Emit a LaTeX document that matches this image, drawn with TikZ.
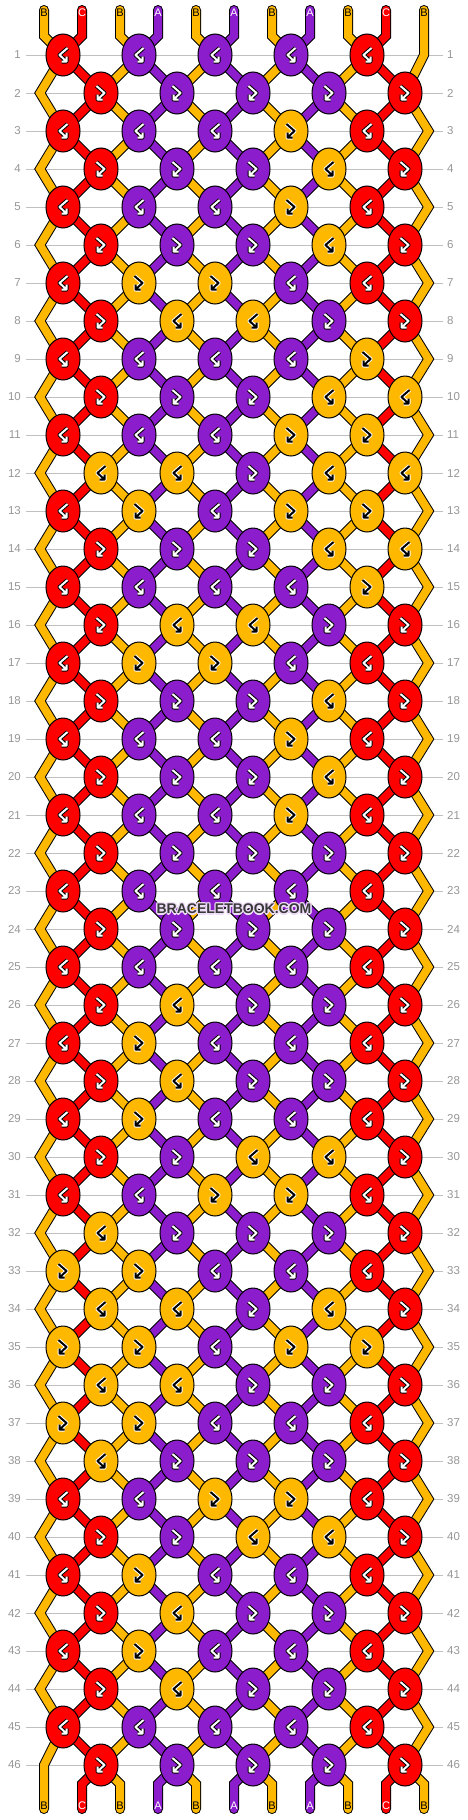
\documentclass[tikz,border=0pt]{standalone}
\usepackage{fontspec}
\setmainfont{Liberation Sans}
\usetikzlibrary{shapes.geometric}

\definecolor{strandA}{RGB}{140,29,204}
\definecolor{strandB}{RGB}{255,184,0}
\definecolor{strandC}{RGB}{255,0,0}
\definecolor{gridgray}{RGB}{192,192,192}
\definecolor{numgray}{RGB}{150,150,150}

\pgfdeclarelayer{grid}
\pgfdeclarelayer{strands}
\pgfsetlayers{grid,strands,main}

\begin{document}
\begin{tikzpicture}[x=1pt,y=-1pt,
	knot/.style={ellipse,draw=black,line width=1pt,minimum width=34pt,minimum height=42pt,inner sep=0pt},
	strand/.style={line width=1pt,draw=black,double=#1,double distance=8pt,line cap=round},
	rowline/.style={gridgray,line width=1pt},
	rownum/.style={text=numgray,font=\fontsize{11.5}{12}\selectfont,inner sep=0pt},
	tag/.style={font=\fontsize{11}{12}\selectfont,inner sep=0pt},
	sign/.style={line width=#1,line cap=butt,line join=round}]
			
			\useasboundingbox (0,0) rectangle (468,1820);
			
			%--- Ky hieu nut (fb: >, bf: <) ---
			\def\fbsign{(-4.5,-7) -- (3.5,0) -- (-3.5,6.5) -- (-3.5,1.5) (-3.5,6.5) -- (1.5,6.5)}
			\def\bfsign{(4.5,-7) -- (-3.5,0) -- (3.5,6.5) -- (3.5,1.5) (3.5,6.5) -- (-1.5,6.5)}
			
			%--- Hang ---
			\begin{pgfonlayer}{grid}
				\foreach \r in {1,...,46} {
					\pgfmathsetmacro\ry{55+38*(\r-1)}
					\draw[rowline] (26,\ry) -- (443,\ry);
					\node[rownum,anchor=east] (nl-\r) at (21,\ry) {\r};
					\node[rownum,anchor=west] (nr-\r) at (447,\ry) {\r};
				}
			\end{pgfonlayer}
			
			%--- Nut: 1 = cam (B), 0 = mau cua soi kia ---
			\foreach \r/\ma/\mb/\mc/\md/\me in {
				1/0/0/0/0/0, 2/0/0/0/0/0, 3/0/0/0/1/0, 4/0/0/0/1/0, 5/0/0/0/1/0,
				6/0/0/0/1/0, 7/0/1/1/0/0, 8/0/1/1/0/0, 9/0/0/0/0/1, 10/0/0/0/1/1,
				11/0/0/0/1/1, 12/1/1/0/1/1, 13/0/1/0/1/1, 14/0/0/0/1/1, 15/0/0/0/0/1,
				16/0/1/1/0/0, 17/0/1/1/0/0, 18/0/0/0/1/0, 19/0/0/0/1/0, 20/0/0/0/1/0,
				21/0/0/0/1/0, 22/0/0/0/0/0, 23/0/0/0/0/0, 24/0/0/0/0/0, 25/0/0/0/0/0,
				26/0/1/0/0/0, 27/0/1/0/0/0, 28/0/1/0/0/0, 29/0/1/0/0/0, 30/0/0/1/1/0,
				31/0/0/1/1/0, 32/1/0/0/0/0, 33/1/1/0/0/0, 34/1/1/0/1/0, 35/1/1/0/1/1,
				36/1/1/0/0/0, 37/1/1/0/0/0, 38/1/0/0/0/0, 39/0/0/1/1/0, 40/0/0/1/1/0,
				41/0/1/0/0/0, 42/0/1/0/0/0, 43/0/1/0/0/0, 44/0/1/0/0/0, 45/0/0/0/0/0,
				46/0/0/0/0/0} {
				\pgfmathtruncatemacro\rodd{mod(\r,2)}
				\foreach \k/\q in {0/\ma,1/\mb,2/\mc,3/\md,4/\me} {
					\pgfmathsetmacro\kx{101+76*\k-38*\rodd}
					\pgfmathsetmacro\ky{55+38*(\r-1)}
					\ifnum\q=1\relax
						\def\kc{strandB}\def\glyphfill{black}\def\glyphedge{white}
					\else
						\def\glyphfill{white}\def\glyphedge{black}
						\ifnum\k=0 \def\kc{strandC}\else\ifnum\k=4 \def\kc{strandC}\else\def\kc{strandA}\fi\fi
					\fi
					\node[knot,fill=\kc] (k-\r-\k) at (\kx,\ky) {};
					\ifnum\rodd=\q\relax \def\sgn{\fbsign}\else\def\sgn{\bfsign}\fi
					\begin{scope}[shift={(k-\r-\k.center)}]
						\draw[sign=4pt,draw=\glyphedge] \sgn;
						\draw[sign=2pt,draw=\glyphfill] \sgn;
					\end{scope}
				}
			}
			
			%--- Soi ---
			\begin{pgfonlayer}{strands}
				\foreach \r in {1,...,45} {
					\pgfmathtruncatemacro\rn{\r+1}
					\pgfmathtruncatemacro\rodd{mod(\r,2)}
					\foreach \k in {0,...,4} {
						\ifnum\k=0 \def\xc{strandC}\else\ifnum\k=4 \def\xc{strandC}\else\def\xc{strandA}\fi\fi
						\draw[strand=\xc] (k-\r-\k.center) -- (k-\rn-\k.center);
						\pgfmathtruncatemacro\kb{\k+1-2*\rodd}
						\ifnum\kb>-1 \ifnum\kb<5
							\draw[strand=strandB] (k-\r-\k.center) -- (k-\rn-\kb.center);
						\fi\fi
					}
				}
				% soi ngoai cung
				\foreach \r in {2,4,...,44} {
					\pgfmathtruncatemacro\ra{\r-1}
					\pgfmathtruncatemacro\rb{\r+1}
					\coordinate (L-\r) at (40,{55+38*(\r-1)});
					\draw[strand=strandB] (k-\ra-0.center) -- (L-\r) -- (k-\rb-0.center);
				}
				\foreach \r in {3,5,...,45} {
					\pgfmathtruncatemacro\ra{\r-1}
					\pgfmathtruncatemacro\rb{\r+1}
					\coordinate (R-\r) at (428.5,{55+38*(\r-1)});
					\draw[strand=strandB] (k-\ra-4.center) -- (R-\r) -- (k-\rb-4.center);
				}
				% dau tren
				\foreach \i/\c/\col in {0/0/strandB,1/0/strandC,2/1/strandB,3/1/strandA,4/2/strandB,
					5/2/strandA,6/3/strandB,7/3/strandA,8/4/strandB,9/4/strandC} {
					\coordinate (top-\i) at ({44+38*\i},10);
					\draw[strand=\col] (top-\i) -- ++(0,26) -- (k-1-\c.center);
				}
				\coordinate (top-10) at (424,10);
				\draw[strand=strandB] (top-10) -- (424,55) -- (k-2-4.center);
				% dau duoi
				\foreach \k in {0,...,4} {
					\ifnum\k=0 \def\xc{strandC}\else\ifnum\k=4 \def\xc{strandC}\else\def\xc{strandA}\fi\fi
					\pgfmathsetmacro\xa{82+76*\k}
					\pgfmathsetmacro\xb{120+76*\k}
					\coordinate (bot-a\k) at (\xa,1809);
					\coordinate (bot-b\k) at (\xb,1809);
					\draw[strand=\xc] (k-46-\k.center) -- (\xa,1784) -- (bot-a\k);
					\draw[strand=strandB] (k-46-\k.center) -- (\xb,1784) -- (bot-b\k);
				}
				\coordinate (bot-0) at (44,1809);
				\draw[strand=strandB] (k-45-0.center) -- (44,1765) -- (bot-0);
			\end{pgfonlayer}
			
			%--- Nhan soi ---
			\foreach \i/\t/\tc in {0/B/black,1/C/white,2/B/black,3/A/white,4/B/black,5/A/white,
				6/B/black,7/A/white,8/B/black,9/C/white,10/B/black} {
				\node[tag,text=\tc] (lt-\i) at ({44+38*\i},13) {\t};
				\node[tag,text=\tc] (lb-\i) at ({44+38*\i},1806) {\t};
			}
			
			%--- Logo ---
			\foreach \a in {0,45,...,315} {
				\node[font=\fontsize{14}{14}\selectfont\bfseries,text=white!85!strandA] (halo-\a)
					at ({234+1.3*cos(\a)},{909+1.3*sin(\a)}) {BRACELETBOOK.COM};
			}
			\node[font=\fontsize{14}{14}\selectfont\bfseries,text=black!78] (logo) at (234,909) {BRACELETBOOK.COM};
			
		\end{tikzpicture}
\end{document}
